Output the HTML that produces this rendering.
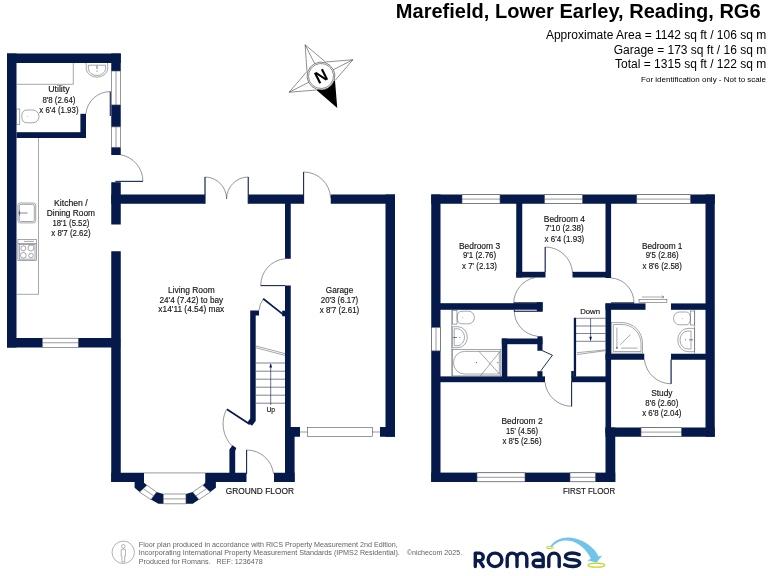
<!DOCTYPE html>
<html><head><meta charset="utf-8">
<style>
html,body{margin:0;padding:0;background:#fff;}
body{width:768px;height:576px;overflow:hidden;font-family:"Liberation Sans",sans-serif;}
svg{display:block;position:absolute;left:0;top:0;will-change:transform;}
.w{fill:#05194b;}
.t{stroke:#2b3040;stroke-width:0.5;fill:none;}
.g{stroke:#5a5f6a;stroke-width:0.55;fill:none;}
.gw{stroke:#8a8f98;stroke-width:0.5;fill:#fff;}
.win{fill:#fff;stroke:#50555e;stroke-width:0.6;}
text{font-family:"Liberation Sans",sans-serif;}
.lb{font-size:8.6px;fill:#151517;text-anchor:middle;stroke:#151517;stroke-width:0.15px;}
</style></head><body>
<svg width="768" height="576" viewBox="0 0 768 576">
<rect width="768" height="576" fill="#fff"/>

<!-- HEADER -->
<g id="hdr">
<text x="760.6" y="17.6" text-anchor="end" font-size="20.05" font-weight="bold" fill="#000">Marefield, Lower Earley, Reading, RG6</text>
<text x="766.2" y="38.8" text-anchor="end" font-size="12" fill="#000">Approximate Area = 1142 sq ft / 106 sq m</text>
<text x="766.2" y="53.6" text-anchor="end" font-size="12" fill="#000">Garage = 173 sq ft / 16 sq m</text>
<text x="766.2" y="68" text-anchor="end" font-size="12" fill="#000">Total = 1315 sq ft / 122 sq m</text>
<text x="766" y="81.8" text-anchor="end" font-size="8" fill="#000">For identification only - Not to scale</text>
</g>

<!-- COMPASS -->
<g id="compass" transform="translate(321,76) rotate(-27)">
<g fill="none" stroke="#222" stroke-width="0.45">
<path d="M0,-35 L10.4,-10.4 L35.8,0 L10.4,10.4 M-10.4,10.4 L-35.8,0 L-10.4,-10.4 L0,-35"/>
<path d="M0,-35 L0,-13 M35.8,0 L13,0 M-35.8,0 L-13,0"/>
</g>
<path d="M-10.4,10.4 L0,35.8 L10.4,10.4 Z" fill="#000"/>
<circle r="13.9" fill="#fff" stroke="#222" stroke-width="0.5"/>
<circle r="12.5" fill="#fff" stroke="#222" stroke-width="0.45"/>
<text x="0" y="6" text-anchor="middle" font-size="17" font-weight="bold" fill="#000">N</text>
</g>

<!-- GROUND FLOOR WALLS -->
<g id="gwalls" class="w">
<rect x="7" y="53.5" width="9.5" height="294"/>
<rect x="7" y="53.5" width="113.75" height="9.5"/>
<rect x="111.25" y="53.5" width="9.5" height="17.5"/>
<rect x="111.25" y="104.9" width="9.5" height="22"/>
<rect x="111.25" y="147.25" width="9.5" height="7.75"/>
<rect x="111.25" y="182.2" width="9.5" height="42.3"/>
<rect x="111.25" y="251.25" width="9.5" height="230.75"/>
<rect x="16.5" y="132.2" width="69.5" height="5.8"/>
<rect x="80.4" y="113.8" width="5.6" height="20"/>
<rect x="7" y="338" width="35.5" height="9.5"/>
<rect x="78.25" y="338" width="42" height="9.5"/>
<rect x="111.25" y="194.5" width="93.75" height="9.25"/>
<rect x="248.25" y="194.5" width="55.5" height="9.25"/>
<rect x="330.75" y="194.5" width="64.25" height="9.25"/>
<rect x="385.5" y="194.5" width="9.5" height="242.25"/>
<rect x="380" y="427" width="15" height="9.75"/>
<rect x="285" y="203" width="5.75" height="55.75"/>
<rect x="285" y="285.5" width="5.75" height="196.5"/>
<rect x="285" y="427" width="9.6" height="55"/>
<rect x="290" y="427" width="10" height="9.75"/>
<path d="M250.2,310.4 L259,310.4 L259,315.6 L255.7,315.6 L255.7,421 L252,425.8 L247.5,422.2 L250.2,418.6 Z"/>
<path d="M282.2,310.7 L285.5,310.7 L285.5,316.3 L282.2,316.3 Z"/>
<path d="M229.4,473.75 L229.4,449.6 L232.5,445.3 L236.3,447.9 L235.2,451 L235.2,473.75 Z"/>
<rect x="111.25" y="472.75" width="32.75" height="9.25"/>
<rect x="205.25" y="472.75" width="41.25" height="9.25"/>
<rect x="274" y="472.75" width="20.6" height="9.25"/>
<!-- bay dark blocks -->
<path d="M134.6,481.5 L144,481.5 L144,482.75 L147.1,485.25 L139.6,492.1 L134.6,487.75 Z"/>
<path d="M156.5,492.1 L163.4,494 L163.4,503.75 L158.4,503.75 L150.9,499.6 Z"/>
<path d="M185.9,494 L192.75,492.1 L199,499.6 L192.75,503.75 L185.9,503.75 Z"/>
<path d="M215.9,481.5 L205.25,481.5 L205.25,482.75 L202.75,485.25 L210.25,492.1 L215.9,487.75 Z"/>
</g>

<!-- FIRST FLOOR WALLS -->
<g id="fwalls" class="w">
<rect x="431.25" y="194.5" width="9.25" height="287.5"/>
<rect x="431.25" y="194.5" width="283.5" height="9.25"/>
<rect x="705.5" y="194.5" width="9.25" height="242.25"/>
<rect x="605.5" y="427.5" width="109.25" height="9.25"/>
<rect x="605.5" y="427.5" width="9.75" height="54.5"/>
<rect x="431.25" y="472.6" width="184" height="9.4"/>
<rect x="516.25" y="203" width="6" height="74.5"/>
<rect x="516.25" y="271.8" width="29.25" height="5.7"/>
<rect x="572.5" y="271.8" width="38.5" height="5.7"/>
<rect x="605.5" y="203" width="5.6" height="75"/>
<rect x="605.5" y="303.4" width="5.6" height="130"/>
<rect x="440" y="303.2" width="102.5" height="6.6"/>
<rect x="605.5" y="303.4" width="40" height="6.4"/>
<rect x="671" y="303.4" width="35" height="6.4"/>
<rect x="605.5" y="353.75" width="38.75" height="6"/>
<rect x="671" y="353.75" width="35" height="6"/>
<rect x="440" y="376.4" width="105" height="5.8"/>
<rect x="571.25" y="376.4" width="39.75" height="5.8"/>
<rect x="571.25" y="371" width="2.6" height="6"/>
<rect x="501.8" y="338.5" width="5.5" height="38.5"/>
<rect x="501.8" y="338.5" width="40.7" height="5.7"/>
<rect x="537.4" y="336.25" width="5.1" height="14.5"/>
<rect x="537.4" y="371.2" width="5.1" height="6"/>
<rect x="573.8" y="317.8" width="2.3" height="59"/>
</g>

<!-- WINDOWS -->
<g id="windows">
<!-- utility right wall windows (vertical) -->
<g class="win">
<rect x="111.4" y="71" width="9.2" height="33.9"/><line x1="116" y1="71" x2="116" y2="104.9"/>
<rect x="111.4" y="126.9" width="9.2" height="20.35"/><line x1="116" y1="126.9" x2="116" y2="147.25"/>
<rect x="42.5" y="338.2" width="35.75" height="9.1"/><line x1="42.5" y1="342.75" x2="78.25" y2="342.75"/>
<!-- first floor top -->
<rect x="462" y="194.7" width="38" height="8.9"/><line x1="462" y1="199.1" x2="500" y2="199.1"/>
<rect x="544.5" y="194.7" width="38" height="8.9"/><line x1="544.5" y1="199.1" x2="582.5" y2="199.1"/>
<rect x="636.75" y="194.7" width="53.75" height="8.9"/><line x1="636.75" y1="199.1" x2="690.5" y2="199.1"/>
<!-- first floor bottom -->
<rect x="477" y="472.8" width="48" height="9"/><line x1="477" y1="477.3" x2="525" y2="477.3"/>
<rect x="570" y="472.8" width="25.5" height="9"/><line x1="570" y1="477.3" x2="595.5" y2="477.3"/>
<rect x="641" y="427.7" width="40.5" height="8.9"/><line x1="641" y1="432.1" x2="681.5" y2="432.1"/>
<!-- bathroom left wall -->
<rect x="431.4" y="327.3" width="9" height="23.6"/><line x1="436" y1="327.3" x2="436" y2="350.9"/>
</g>
<!-- bay window -->
<g class="win">
<path d="M144,472.9 L205.25,472.9"/>
<path d="M147.1,485.25 L156.5,492.1 L150.9,499.6 L139.6,492.1 Z"/><path d="M143.3,488.7 L153.7,495.9"/>
<path d="M163.4,494 L185.9,494 L185.9,503.75 L163.4,503.75 Z"/><path d="M163.4,498.9 L185.9,498.9"/>
<path d="M192.75,492.1 L202.75,485.25 L210.25,492.1 L199,499.6 Z"/><path d="M195.9,495.9 L206.5,488.7"/>
</g>
<!-- garage door -->
<g class="t" stroke="#33363d">
<rect x="307.4" y="427.4" width="65.1" height="9.2" fill="#fff"/>
<line x1="300" y1="432" x2="307.4" y2="432"/><line x1="372.5" y1="432" x2="380" y2="432"/>
</g>
</g>

<!-- DOORS -->
<g id="doors" class="t">
<!-- utility door -->
<path d="M110.3,116 L110.3,91.6 A24.4,24.4 0 0 0 85.9,113.8"/>
<!-- kitchen external door -->
<path d="M115.4,181.3 L142.9,181.3 A27,27 0 0 0 120.4,154.75"/>
<!-- french doors -->
<path d="M205,203.75 L205,177 A21.7,22 0 0 1 226.6,199 A21.7,22 0 0 1 248.25,177 L248.25,203.75"/>
<!-- garage rear door -->
<path d="M303.6,203.75 L303.6,172 A27,27 0 0 1 330.6,198"/>
<!-- living/garage door -->
<path d="M285,285.6 L260.7,285.6 A26.5,26.8 0 0 1 285,258.8"/>
<!-- front door -->
<path d="M246.6,473.75 L246.6,450 A27,27 0 0 1 273.6,474"/>
<!-- hall/living door -->
<path d="M232,446 A32,32 0 0 1 226.4,409.6" />
<path d="M226.9,409.2 L249.8,424.2" stroke="#05194b" stroke-width="1.7"/>
<!-- understairs cupboard door -->
<path d="M259,310.4 A25,25 0 0 1 263.25,298.75"/>
<path d="M263.25,298.75 L283,314.3" stroke="#05194b" stroke-width="1.6"/>
<!-- bed4 door -->
<path d="M545.2,272 L545.2,247 A27.4,27.4 0 0 1 572.6,273"/>
<!-- bed3 door -->
<path d="M535,277.5 A26.5,26.5 0 0 0 513.75,303.4 L540,303.4"/>
<!-- bathroom door -->
<path d="M537.4,336.25 A26,26 0 0 1 514.2,310.4"/>
<!-- bed1 door -->
<path d="M611,278 A24,25 0 0 1 634,303.2 L611,303.2"/>
<!-- bed2 door -->
<path d="M571.6,382 L571.6,406.3 A27,27 0 0 1 545,382.3"/>
<!-- study door -->
<path d="M671.1,359.5 L671.1,383.8 A27,27 0 0 1 644.4,359.6"/>
<!-- bifold cupboard -->
<path d="M541.8,350.4 L552.4,355.2 L540.8,370.8" stroke-width="0.9" stroke="#05194b"/>
<!-- sliding door -->
<rect x="639" y="299.4" width="27.9" height="3.3" stroke="#444" fill="#fff"/>
<path d="M641.9,297 L664,297 M661.8,295.6 L664,297 L661.8,298.2" stroke="#555"/>
</g>


<!-- DOOR LEAVES -->
<g id="leaves" stroke="#05194b" stroke-width="0.9" fill="none">
<path d="M110.3,116 V91.6"/>
<path d="M115.4,181.4 H142.9"/>
<path d="M205,203.75 V177 M248.25,203.75 V177"/>
<path d="M303.6,203.75 V172"/>
<path d="M285,285.6 H260.7"/>
<path d="M246.6,473.75 V450"/>
<path d="M545.2,272 V247"/>
<path d="M571.6,382 V406.3"/>
<path d="M671.1,359.5 V383.8"/>
</g>
<g id="leafrects" fill="#05194b">
<rect x="513.9" y="302.3" width="28.8" height="1.2"/>
<rect x="536.8" y="302.3" width="5.9" height="9.5"/>
<rect x="513.9" y="309.6" width="23" height="2.2"/>
<rect x="514.8" y="309.8" width="22" height="0.9" fill="#fff"/>
<rect x="611" y="302.4" width="23" height="1.2"/>
</g>
<!-- STAIRS -->
<g id="stairs" class="t" style="stroke-width:0.6">
<path d="M256,363 H285 M256,371.2 H285 M256,379.2 H285 M256,387.2 H285 M256,395.2 H285 M256,403.2 H285"/>
<path d="M256,346 L285,353.6 M256,347.8 L285,355.4" class="g"/>
<path d="M270.7,405 L270.7,364" stroke="#05194b" stroke-width="0.6"/>
<path d="M269.3,367.5 L270.7,363.2 L272.1,367.5 Z" fill="#05194b" stroke="none"/>
<path d="M575,318.3 H605.5 M575,326 H605.5 M575,333.5 H605.5 M575,341.3 H605.5"/>
<path d="M576.9,352.7 L605.3,349.9 M576.9,354.6 L605.3,350.7" class="g"/>
<path d="M590.6,318.3 L590.6,339" stroke="#05194b" stroke-width="0.6"/>
<path d="M589.3,336.8 L590.6,341.4 L591.9,336.8 Z" fill="#05194b" stroke="none"/>
</g>

<!-- FIXTURES -->
<g id="fixtures" class="g">
<!-- utility worktop -->
<path d="M16.6,84.3 H73.3 V62.8"/>
<!-- utility sink -->
<path d="M86.2,62.9 V69 A10.8,9 0 0 0 107.7,69 V62.9"/>
<path d="M88.4,65.2 H105.6 V68.5 A8.6,7 0 0 1 88.4,68.5 Z"/>
<path d="M97,65.5 V69" stroke="#333" stroke-width="0.7"/><circle cx="97" cy="71" r="0.5" fill="#333" stroke="none"/>
<!-- utility toilet -->
<rect x="16.7" y="109" width="3.1" height="15.7"/>
<path d="M27,110 H33 A6,6.4 0 0 1 33,122.8 H27 Q21.8,122.8 21.8,116.4 Q21.8,110 27,110 Z"/>
<circle cx="27.5" cy="116.3" r="0.4" fill="#555" stroke="none"/>
<!-- kitchen worktop -->
<path d="M38.5,138 V294.3 H16.6"/>
<!-- kitchen sink -->
<rect x="17.9" y="203" width="17.8" height="19.9" rx="2.2"/>
<rect x="19.3" y="204.4" width="15" height="17.1" rx="1.6"/>
<path d="M18,213 H27.5 M19.6,210.5 V215.5" stroke="#333" stroke-width="0.6"/>
<!-- hob -->
<rect x="17.9" y="239.3" width="18.4" height="21"/>
<path d="M17.9,243.5 H36.3 M24,241.4 H34" />
<rect x="19.2" y="244.6" width="15.8" height="14.5"/>
<circle cx="23.3" cy="248.3" r="2.5"/><circle cx="31" cy="248" r="3"/><circle cx="23.3" cy="255.3" r="2.9"/><circle cx="31" cy="255.5" r="2.3"/>
<!-- bathroom -->
<path d="M451.7,309.8 V376.4"/>
<rect x="452.4" y="310.7" width="4.6" height="13.4"/>
<path d="M462,311.2 H468.5 A5.9,6.3 0 0 1 468.5,323.8 H462 Q457.2,323.8 457.2,317.5 Q457.2,311.2 462,311.2 Z"/>
<circle cx="462.8" cy="317.6" r="0.4" fill="#555" stroke="none"/>
<path d="M452.4,326.7 H458 A9.3,10.5 0 0 1 458,347.7 H452.4 Z"/>
<path d="M454.2,328.8 H458 A7.3,8.5 0 0 1 458,345.7 H454.2 Z"/>
<path d="M453,337.5 H457" stroke="#446" stroke-width="0.7"/><circle cx="459.8" cy="337.6" r="0.5" fill="#446" stroke="none"/>
<rect x="452.4" y="349.3" width="48.4" height="26.6"/>
<path d="M464.5,351.4 H499.3 V374 H464.5 A11,11.3 0 0 1 464.5,351.4 Z"/>
<path d="M479,351.4 L500,374.5 M500,351.4 L480.5,375.8"/>
<circle cx="476.5" cy="362.6" r="0.6" fill="#556" stroke="none"/><circle cx="497.8" cy="362.6" r="0.6" fill="#556" stroke="none"/>
<!-- ensuite -->
<path d="M694.6,309.8 V353.8"/>
<rect x="690.6" y="311" width="3.9" height="14"/>
<path d="M686,312 H679.5 A6,6.4 0 0 0 679.5,324.8 H686 Q690.4,324.8 690.4,318.4 Q690.4,312 686,312 Z"/>
<circle cx="682.5" cy="318.3" r="0.4" fill="#555" stroke="none"/>
<path d="M694.5,328.4 H688 A10.2,11.6 0 0 0 688,351.7 H694.5 Z"/>
<path d="M691,331 H688 A8,9 0 0 0 688,349 H691 Z"/>
<path d="M689,339.8 H693" stroke="#446" stroke-width="0.7"/><circle cx="685.6" cy="339.8" r="0.5" fill="#446" stroke="none"/>
<!-- shower quadrant -->
<path d="M611.3,322.6 H622 A20.5,20.5 0 0 1 642.5,343 V353.2 H611.3 Z"/>
<path d="M613.3,324.5 H622 A19,19 0 0 1 641,343.5 V351.5 H613.3 Z"/>
<path d="M616.9,327.5 V347 M621,348.1 H637.5 M630.5,334.5 L620.3,344.7"/>
<rect x="616.2" y="347.2" width="1.4" height="1.4" fill="#223" stroke="none"/>
</g>

<!-- LABELS -->
<g id="labels">
<text class="lb" x="58.9" y="92.25" textLength="21.5" lengthAdjust="spacingAndGlyphs">Utility</text>
<text class="lb" x="58.9" y="102.75" textLength="33" lengthAdjust="spacingAndGlyphs">8'8 (2.64)</text>
<text class="lb" x="58.9" y="112.75" textLength="39.25" lengthAdjust="spacingAndGlyphs">x 6'4 (1.93)</text>
<text class="lb" x="70.9" y="206.25" textLength="33.75" lengthAdjust="spacingAndGlyphs">Kitchen /</text>
<text class="lb" x="70.9" y="215.7" textLength="48.25" lengthAdjust="spacingAndGlyphs">Dining Room</text>
<text class="lb" x="70.9" y="226.25" textLength="37" lengthAdjust="spacingAndGlyphs">18'1 (5.52)</text>
<text class="lb" x="70.9" y="236.25" textLength="39.25" lengthAdjust="spacingAndGlyphs">x 8'7 (2.62)</text>
<text class="lb" x="191.3" y="292.6" textLength="46.7" lengthAdjust="spacingAndGlyphs">Living Room</text>
<text class="lb" x="191.3" y="302.6" textLength="63.7" lengthAdjust="spacingAndGlyphs">24'4 (7.42) to bay</text>
<text class="lb" x="191.3" y="312.4" textLength="65.9" lengthAdjust="spacingAndGlyphs">x14'11 (4.54) max</text>
<text class="lb" x="339.5" y="292.5" textLength="27.5" lengthAdjust="spacingAndGlyphs">Garage</text>
<text class="lb" x="339.5" y="302.75" textLength="37.5" lengthAdjust="spacingAndGlyphs">20'3 (6.17)</text>
<text class="lb" x="339.5" y="312.75" textLength="39.5" lengthAdjust="spacingAndGlyphs">x 8'7 (2.61)</text>
<text class="lb" x="479.5" y="248.5" textLength="41.25" lengthAdjust="spacingAndGlyphs">Bedroom 3</text>
<text class="lb" x="479.5" y="258.2" textLength="33.25" lengthAdjust="spacingAndGlyphs">9'1 (2.76)</text>
<text class="lb" x="479.5" y="268.5" textLength="35" lengthAdjust="spacingAndGlyphs">x 7' (2.13)</text>
<text class="lb" x="564.4" y="221.75" textLength="41.25" lengthAdjust="spacingAndGlyphs">Bedroom 4</text>
<text class="lb" x="564.4" y="231.4" textLength="38.75" lengthAdjust="spacingAndGlyphs">7'10 (2.38)</text>
<text class="lb" x="564.4" y="241.75" textLength="39.75" lengthAdjust="spacingAndGlyphs">x 6'4 (1.93)</text>
<text class="lb" x="662.2" y="248.5" textLength="40.5" lengthAdjust="spacingAndGlyphs">Bedroom 1</text>
<text class="lb" x="662.2" y="258.2" textLength="33" lengthAdjust="spacingAndGlyphs">9'5 (2.86)</text>
<text class="lb" x="662.2" y="268.5" textLength="39.25" lengthAdjust="spacingAndGlyphs">x 8'6 (2.58)</text>
<text class="lb" x="661.8" y="396.0" textLength="21.25" lengthAdjust="spacingAndGlyphs">Study</text>
<text class="lb" x="661.8" y="406.0" textLength="33" lengthAdjust="spacingAndGlyphs">8'6 (2.60)</text>
<text class="lb" x="661.8" y="416.0" textLength="39.25" lengthAdjust="spacingAndGlyphs">x 6'8 (2.04)</text>
<text class="lb" x="522" y="424.25" textLength="41.25" lengthAdjust="spacingAndGlyphs">Bedroom 2</text>
<text class="lb" x="522" y="433.9" textLength="32.25" lengthAdjust="spacingAndGlyphs">15' (4.56)</text>
<text class="lb" x="522" y="444.25" textLength="39.25" lengthAdjust="spacingAndGlyphs">x 8'5 (2.56)</text>
<text class="lb" x="270.8" y="412.3" font-size="7.6" textLength="8.8" lengthAdjust="spacingAndGlyphs" style="font-size:7.6px">Up</text>
<text class="lb" x="590.1" y="313.8" textLength="19.8" lengthAdjust="spacingAndGlyphs" style="font-size:7.6px">Down</text>
<text class="lb" x="259.9" y="493.8" textLength="68.2" lengthAdjust="spacingAndGlyphs" style="font-size:9.2px">GROUND FLOOR</text>
<text class="lb" x="589.1" y="493.8" textLength="52.2" lengthAdjust="spacingAndGlyphs" style="font-size:9.2px">FIRST FLOOR</text>
</g>

<!-- FOOTER -->
<g id="footer" fill="#636363" font-size="7.3">
<circle cx="123.25" cy="552.3" r="11.2" fill="none" stroke="#666" stroke-width="0.5"/>
<circle cx="123.3" cy="546.4" r="1.8" fill="none" stroke="#666" stroke-width="0.5"/>
<path d="M121.2,549.6 Q123.3,548.6 125.4,549.6 L125.4,556 L124.7,556 L124.7,562 L121.9,562 L121.9,556 L121.2,556 Z" fill="none" stroke="#666" stroke-width="0.5"/>
<text x="138.8" y="546.8" textLength="259" lengthAdjust="spacingAndGlyphs">Floor plan produced in accordance with RICS Property Measurement 2nd Edition,</text>
<text x="138.8" y="555.4" textLength="261" lengthAdjust="spacingAndGlyphs">Incorporating International Property Measurement Standards (IPMS2 Residential).</text>
<text x="406.7" y="555.4" textLength="55.5" lengthAdjust="spacingAndGlyphs">©nichecom 2025.</text>
<text x="138.8" y="563.6" textLength="124" lengthAdjust="spacingAndGlyphs" xml:space="preserve">Produced for Romans.   REF: 1236478</text>
</g>
<!-- LOGO -->
<g id="logo">
<path d="M550.3,546.6 C555,538.5 566,536.2 575,538.4 C587,541.4 595.5,549 598.6,556.6 L602.2,555.4 L596.6,562.6 L587.2,560.2 L590.8,559 C588.5,552.5 582,545.5 573.5,541.8 C565,538.6 556,541 551.6,547.6 Z" fill="#70c4ea"/>
<ellipse cx="549.8" cy="547.5" rx="3.7" ry="1" fill="none" stroke="#c4d52e" stroke-width="1"/>
<ellipse cx="596.4" cy="565.2" rx="8.2" ry="1.9" fill="none" stroke="#c4d52e" stroke-width="1.4"/>
<g fill="none" stroke="#0a1b4c" stroke-width="3.4" stroke-linecap="round" stroke-linejoin="round">
<path d="M475.3,566.5 V553.1 H479.4 A3.85,3.85 0 0 1 479.4,560.8 H476 M479.6,561 L483.2,566.5"/>
<ellipse cx="495" cy="559.85" rx="6.9" ry="6.75"/>
<path d="M507.2,566.5 V558 A4.9,4.9 0 0 1 517,558 V566.5 M517,558 A4.9,4.9 0 0 1 526.8,558 V566.5"/>
<path d="M532.8,554.6 Q537.5,552.2 541,554 Q543.2,555.4 543.2,558.4 V566.5 M543.2,560.2 H536.3 A3.15,3.15 0 0 0 536.3,566.5 H543.2"/>
<path d="M548.8,566.5 V558.3 A5.2,5.2 0 0 1 559.2,558.3 V566.5"/>
<path d="M579.2,554.6 Q574,552.4 569,553.3 Q565,554.5 565.6,557.2 Q566.3,559.2 572.5,559.7 Q579.4,560.2 579.7,563 Q579.7,566 573.5,566.5 Q568.5,566.7 564.6,564.8"/>
</g>
</g>
</svg>
</body></html>
